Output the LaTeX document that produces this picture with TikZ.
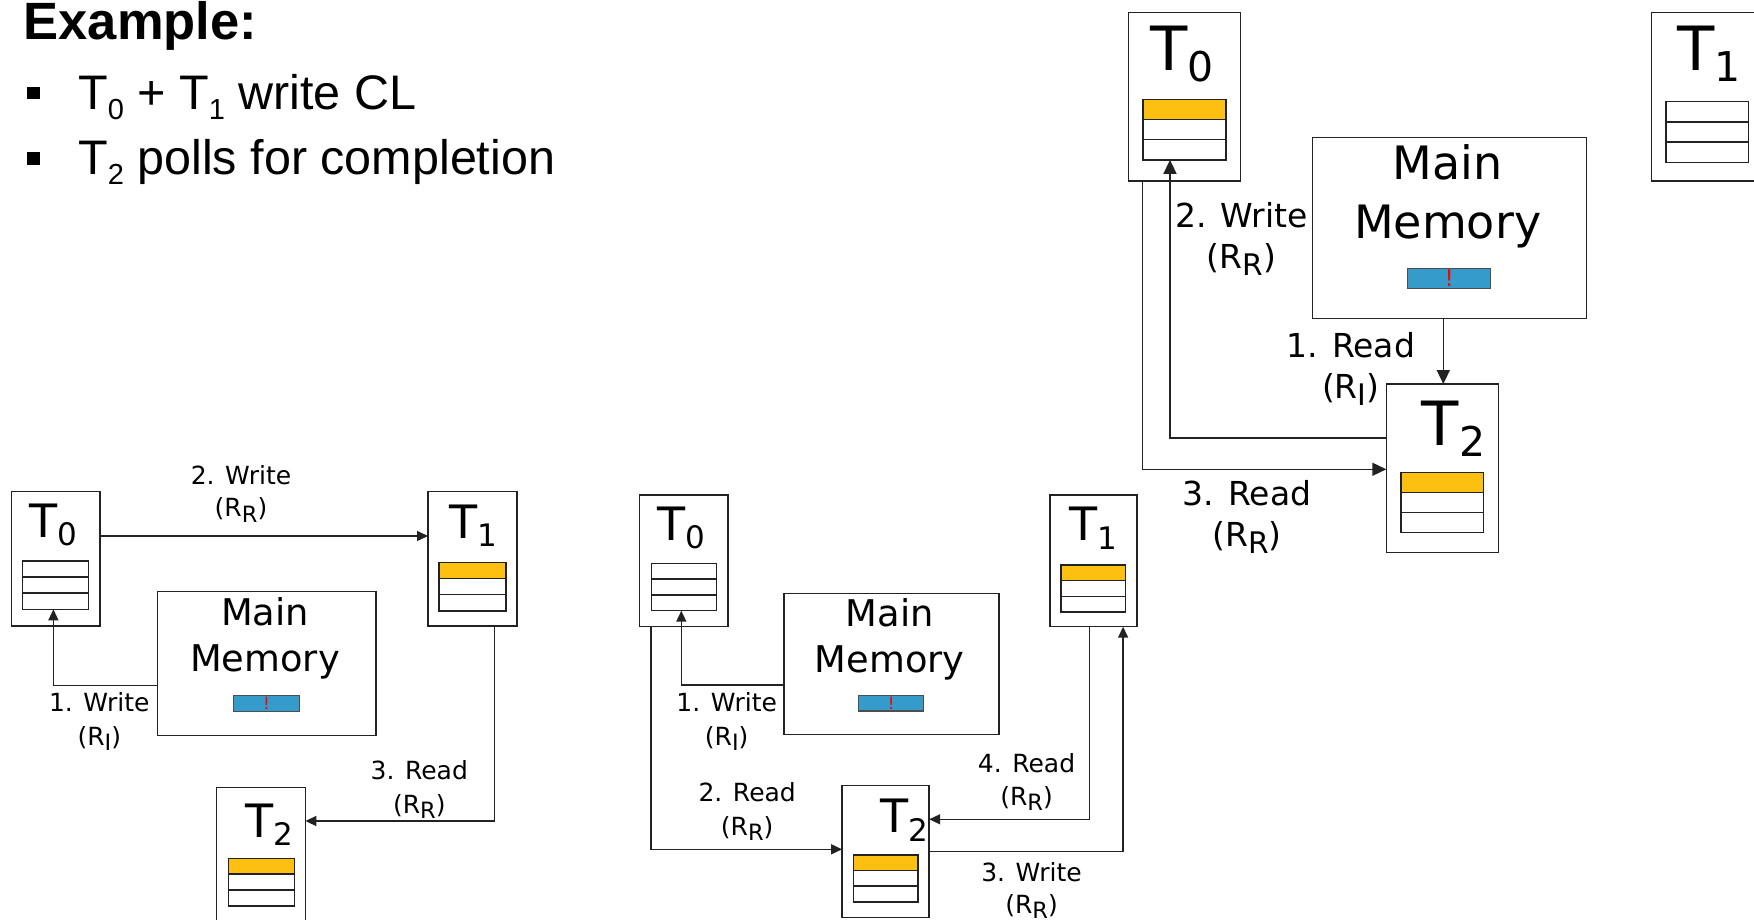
\documentclass[tikz,border=0pt]{standalone}
\usepackage{fontspec}
\setmainfont{DejaVu Sans}
\newfontfamily\arialf{Liberation Sans}
\usetikzlibrary{arrows.meta}
\definecolor{cly}{HTML}{FEC010}
\definecolor{clb}{HTML}{349BCB}
\definecolor{cln}{HTML}{222222}
\tikzset{
 tbox/.style={draw=cln, line width=1.5pt, fill=white, inner sep=0pt, outer sep=0pt, anchor=north west},
 ccell/.style={draw=cln, line width=1.5pt, inner sep=0pt, outer sep=0pt},
 conn/.style={draw=cln, line width=1.5pt, -{Triangle[length=11pt,width=10pt]}},
 connL/.style={draw=cln, line width=1.6pt, -{Triangle[length=14pt,width=13pt]}},
 elab/.style={inner sep=0pt, anchor=base, font=\fontsize{25}{25}\selectfont},
 elabL/.style={inner sep=0pt, anchor=base, font=\fontsize{33}{33}\selectfont},
 tlab/.style={inner sep=0pt, anchor=base west},
 mtxt/.style={inner sep=0pt, anchor=base, font=\fontsize{36.8}{36.8}\selectfont},
 mtxtL/.style={inner sep=0pt, anchor=base, font=\fontsize{46}{46}\selectfont},
 mbar/.style={draw=cln!80, line width=1.2pt, fill=clb, inner sep=0pt, outer sep=0pt, anchor=north west},
 ebang/.style={text=red, inner sep=0pt, anchor=center},
 bsq/.style={fill=black, inner sep=0pt, minimum size=12.5pt, anchor=center},
 btxt/.style={inner sep=0pt, anchor=base west, font=\arialf\fontsize{48.5}{48.5}\selectfont},
}
\newcommand{\Tsm}[1]{\fontsize{46}{46}\selectfont T\raisebox{-8.5pt}{\fontsize{31}{31}\selectfont #1}}
\newcommand{\Tbg}[1]{\fontsize{61}{61}\selectfont T\raisebox{-10.7pt}{\fontsize{41}{41}\selectfont #1}}
\newcommand{\Rs}[1]{(R\raisebox{-0.22em}{\scalebox{0.9}{#1}})}
\newcommand{\Bsub}[1]{\raisebox{-9.5pt}{\fontsize{29}{29}\selectfont #1}}
\newcommand{\cachestack}[6]{%
 \node[ccell, fill=#6, minimum width=#4pt, minimum height=#5pt, anchor=north west] (#1a) at (#2,#3) {};
 \node[ccell, fill=white, minimum width=#4pt, minimum height=#5pt, anchor=north] (#1b) at (#1a.south) {};
 \node[ccell, fill=white, minimum width=#4pt, minimum height=#5pt, anchor=north] (#1c) at (#1b.south) {};
}
\begin{document}
\begin{tikzpicture}[x=1pt,y=-1pt]
\useasboundingbox (0,0) rectangle (1754,920);
\clip (0,0) rectangle (1754,920);

% ---- title and bullets
\node[inner sep=0pt, anchor=base west, font=\arialf\bfseries\fontsize{52.5}{52.5}\selectfont] (title) at (23.5,39.3) {Example:};
\node[bsq] (sq1) at (33.7,93.2) {};
\node[bsq] (sq2) at (33.7,158.5) {};
\node[btxt] (b1) at (78,110) {T\Bsub{0} + T\Bsub{1} write CL};
\node[btxt] (b2) at (78,175) {T\Bsub{2} polls for completion};

% ---- left diagram
\node[tbox, minimum width=88.5pt, minimum height=134.3pt] (lT0) at (11.4,491.7) {};
\node[tbox, minimum width=89.2pt, minimum height=134.3pt] (lT1) at (428,491.7) {};
\node[tbox, minimum width=88.8pt, minimum height=150pt] (lT2) at (216.6,787.7) {};
\node[tbox, minimum width=218.6pt, minimum height=144pt] (lMM) at (157.4,591.7) {};
\cachestack{lT0c}{22.4}{561}{66.1}{16.1}{white}
\cachestack{lT1c}{439}{562.3}{67.2}{16.2}{cly}
\cachestack{lT2c}{228.3}{858.3}{66.1}{15.9}{cly}
\node[tlab] (lT0t) at (29.3,537.3) {\Tsm{0}};
\node[tlab] (lT1t) at (449.4,538.3) {\Tsm{1}};
\node[tlab] (lT2t) at (245,837.3) {\Tsm{2}};
\node[mtxt] (lMMa) at (265,625.7) {Main};
\node[mtxt] (lMMb) at (265,671.7) {Memory};
\node[mbar, minimum width=66.1pt, minimum height=16pt] (lBar) at (233.5,695.7) {};
\node[ebang, font=\fontsize{17}{17}\selectfont] (lBang) at (lBar.center) {!};
\draw[conn] (lT0.east |- 0,536) -- (lT1.west |- 0,536);
\draw[conn] (lMM.west |- 0,685.3) -| (lT0cc.south -| 53.4,0);
\draw[conn] (lT1.south -| 494.5,0) |- (lT2.east |- 0,821);
\node[elab] (l2a) at (241,484.3) {2. Write};
\node[elab] (l2b) at (241,516.7) {\Rs{R}};
\node[elab] (l1a) at (99.3,711.7) {1. Write};
\node[elab] (l1b) at (99.3,745) {\Rs{I}};
\node[elab] (l3a) at (419.3,779.3) {3. Read};
\node[elab] (l3b) at (419.3,813.3) {\Rs{R}};

% ---- middle diagram
\node[tbox, minimum width=88.2pt, minimum height=131.7pt] (mT0) at (639.6,495) {};
\node[tbox, minimum width=87.4pt, minimum height=131.7pt] (mT1) at (1049.8,495) {};
\node[tbox, minimum width=87.1pt, minimum height=132pt] (mT2) at (842.1,785.7) {};
\node[tbox, minimum width=214.9pt, minimum height=141.4pt] (mMM) at (783.9,593.3) {};
\cachestack{mT0c}{651.3}{563.3}{65.1}{15.8}{white}
\cachestack{mT1c}{1061.1}{565}{64.4}{15.7}{cly}
\cachestack{mT2c}{853.5}{855}{64.7}{15.6}{cly}
\node[tlab] (mT0t) at (657.2,540) {\Tsm{0}};
\node[tlab] (mT1t) at (1069.4,540.7) {\Tsm{1}};
\node[tlab] (mT2t) at (880,832.7) {\Tsm{2}};
\node[mtxt] (mMMa) at (889.8,626.7) {Main};
\node[mtxt] (mMMb) at (889.8,672.3) {Memory};
\node[mbar, minimum width=65.1pt, minimum height=15.3pt] (mBar) at (858.6,695.7) {};
\node[ebang, font=\fontsize{17}{17}\selectfont] (mBang) at (mBar.center) {!};
\draw[conn] (mMM.west |- 0,685) -| (mT0cc.south -| 681.3,0);
\draw[conn] (mT0.south -| 651,0) |- (mT2.west |- 0,849.3);
\draw[conn] (mT1.south -| 1089.4,0) |- (mT2.east |- 0,819.3);
\draw[conn] (mT2.east |- 0,851.7) -| (mT1.south -| 1123.1,0);
\node[elab] (m1a) at (726.7,711) {1. Write};
\node[elab] (m1b) at (726.7,745) {\Rs{I}};
\node[elab] (m2a) at (747.2,801.7) {2. Read};
\node[elab] (m2b) at (747.2,835) {\Rs{R}};
\node[elab] (m4a) at (1026.5,772.7) {4. Read};
\node[elab] (m4b) at (1026.5,805) {\Rs{R}};
\node[elab] (m3a) at (1031.5,881.7) {3. Write};
\node[elab] (m3b) at (1031.5,913.3) {\Rs{R}};

% ---- right diagram
\node[tbox, minimum width=112.1pt, minimum height=168.7pt] (rT0) at (1128.5,12.3) {};
\node[tbox, minimum width=112pt, minimum height=168.5pt] (rT1) at (1651.5,12.5) {};
\node[tbox, minimum width=112pt, minimum height=168.3pt] (rT2) at (1386.3,384) {};
\node[tbox, minimum width=273.9pt, minimum height=180.6pt] (rMM) at (1312.5,137.7) {};
\cachestack{rT0c}{1142.9}{99.3}{82.9}{20.2}{cly}
\cachestack{rT1c}{1666}{101.7}{82.7}{20.2}{white}
\cachestack{rT2c}{1401}{472.3}{82.7}{20.1}{cly}
\node[tlab] (rT0t) at (1149.8,71) {\Tbg{0}};
\node[tlab] (rT1t) at (1677.3,70.7) {\Tbg{1}};
\node[tlab] (rT2t) at (1421.7,445.7) {\Tbg{2}};
\node[mtxtL] (rMMa) at (1447.7,180) {Main};
\node[mtxtL] (rMMb) at (1447.7,238.3) {Memory};
\node[mbar, minimum width=83pt, minimum height=20.4pt] (rBar) at (1407.7,268.3) {};
\node[ebang, font=\fontsize{23}{23}\selectfont] (rBang) at (rBar.center) {!};
\draw[connL] (rMM.south -| 1443.3,0) -- (rT2.north -| 1443.3,0);
\draw[connL] (rT2.west |- 0,437.7) -| (rT0cc.south -| 1170,0);
\draw[connL] (rT0.south -| 1142.3,0) |- (rT2.west |- 0,469.3);
\node[elabL] (r2a) at (1241.4,227.7) {2. Write};
\node[elabL] (r2b) at (1241.4,268.3) {\Rs{R}};
\node[elabL] (r1a) at (1350.8,357.3) {1. Read};
\node[elabL] (r1b) at (1350.8,398.3) {\Rs{I}};
\node[elabL] (r3a) at (1247,505.7) {3. Read};
\node[elabL] (r3b) at (1247,546.7) {\Rs{R}};
\end{tikzpicture}
\end{document}
